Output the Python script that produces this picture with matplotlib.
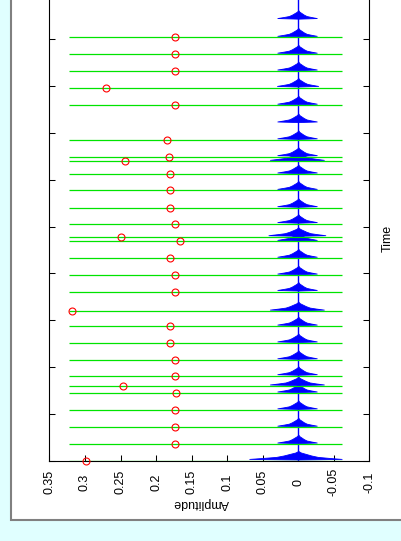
import numpy as np
import matplotlib
matplotlib.use("Agg")
import matplotlib.pyplot as plt
from matplotlib.patches import Rectangle

plt.rcParams['font.family'] = ['Liberation Sans', 'DejaVu Sans']

# detected onsets (s) and the peak value found at each one
onset_times = [9.04, 8.68, 8.32, 7.97, 7.59, 6.85, 6.49, 6.39, 6.12, 5.77,
               5.40, 5.06, 4.78, 4.68, 4.32, 3.96, 3.61, 3.19, 2.87, 2.51,
               2.15, 1.81, 1.59, 1.44, 1.08, 0.71, 0.35, 0.0]
peak_values = [0.174, 0.174, 0.174, 0.271, 0.174, 0.184, 0.182, 0.243, 0.180, 0.180,
               0.180, 0.174, 0.250, 0.166, 0.180, 0.174, 0.174, 0.318, 0.180, 0.180,
               0.174, 0.174, 0.246, 0.172, 0.174, 0.174, 0.174, 0.299]

# bursts in the signal: start time, positive and negative excursion
burst_times = onset_times + [9.42, 7.21]
burst_pos = [0.0295, 0.0295, 0.0295, 0.030, 0.0295, 0.0295, 0.0295, 0.040, 0.0295, 0.0295,
             0.0295, 0.0295, 0.042, 0.0295, 0.0295, 0.0295, 0.0295, 0.040, 0.0295, 0.0295,
             0.0295, 0.0295, 0.040, 0.0295, 0.0295, 0.0295, 0.0295, 0.069, 0.0295, 0.0295]
burst_neg = [0.026, 0.026, 0.026, 0.028, 0.026, 0.026, 0.026, 0.036, 0.026, 0.026,
             0.026, 0.026, 0.038, 0.026, 0.026, 0.026, 0.026, 0.036, 0.026, 0.026,
             0.026, 0.026, 0.036, 0.026, 0.026, 0.026, 0.026, 0.061, 0.026, 0.026]

# decay shape of a single burst: time after start (s) and relative level
env_dt = [0.021, 0.034, 0.056, 0.077, 0.107, 0.139, 0.171, 0.203]
env_level = [0.0, 1.0, 0.7, 0.45, 0.3, 0.18, 0.06, 0.0]

stem_low, stem_high = -0.062, 0.322

amp_ticks = [0.35, 0.3, 0.25, 0.2, 0.15, 0.1, 0.05, 0, -0.05, -0.1]
amp_labels = ['0.35', '0.3', '0.25', '0.2', '0.15', '0.1', '0.05', '0', '-0.05', '-0.1']
time_ticks = list(range(0, 11))

W, H = 401, 541
fig = plt.figure(figsize=(W / 100, H / 100), dpi=100, facecolor='#e0ffff')
panel = Rectangle((11 / W, (H - 520) / H), 1.0, 1.0, transform=fig.transFigure,
                  facecolor='white', edgecolor='#808080', linewidth=1.5, zorder=-10)
fig.patches.append(panel)

ax = fig.add_axes([49.4 / W, (H - 460.5) / H, 320 / W, 468 / H], zorder=1)
ax.set_xlim(0.35, -0.1)
ax.set_ylim(0, 10)

# signal
ax.plot([0, 0], [0, 10], color='blue', lw=1.0, zorder=2)
lvl = np.array(env_level)
for bt, bp, bn in zip(burst_times, burst_pos, burst_neg):
    t = bt + np.array(env_dt)
    ax.fill_betweenx(t, -bn * lvl, bp * lvl, color='blue', lw=0.6, zorder=2)

# onset markers and peaks
ax.hlines(onset_times, stem_low, stem_high, color='#00e400', lw=0.9, zorder=3)
ax.plot(peak_values, onset_times, 'o', mfc='none', mec='red', ms=5, mew=0.8,
        clip_on=False, zorder=4)

ax.set_xticks(amp_ticks)
ax.set_xticklabels(amp_labels, rotation=90, va='center', fontsize=9)
ax.set_yticks(time_ticks)
ax.set_yticklabels([])
ax.tick_params(axis='x', direction='in', length=4, width=0.75, pad=15.5)
ax.tick_params(axis='y', direction='in', left=True, right=True, length=4.5, width=0.75)
for s in ax.spines.values():
    s.set_linewidth(0.8)

fig.text(201 / W, 1 - 503 / H, 'Amplitude', rotation=180, ha='center', va='center', fontsize=9)
fig.text(388 / W, 1 - 238 / H, 'Time', rotation=90, ha='center', va='center', fontsize=9)

fig.savefig('out.png', dpi=100, facecolor=fig.get_facecolor())
